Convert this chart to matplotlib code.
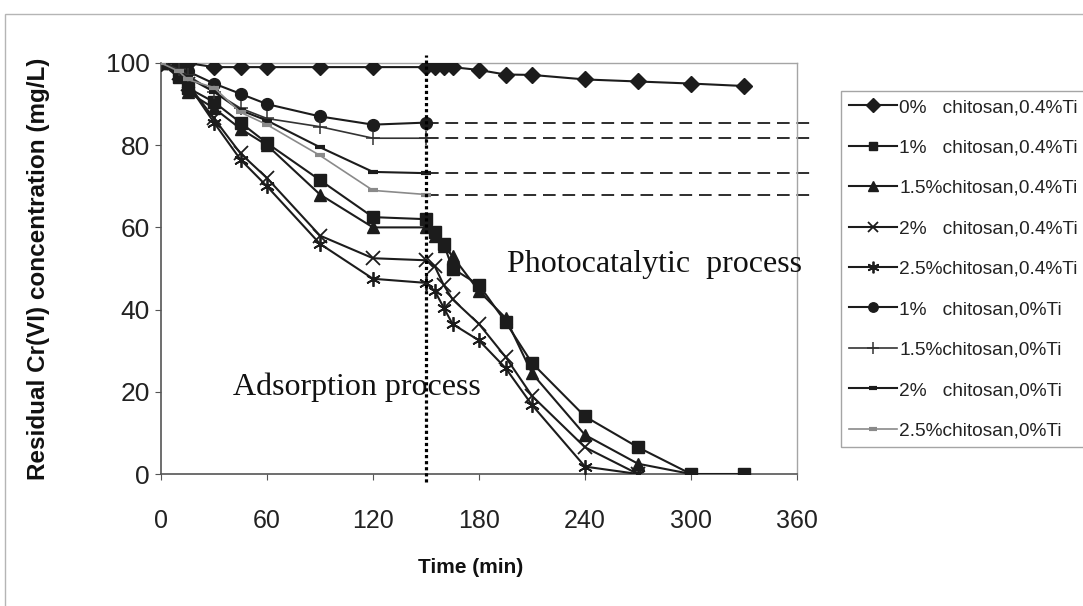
import numpy as np
import matplotlib
matplotlib.use('Agg')
import matplotlib.pyplot as plt
from matplotlib.patches import Rectangle

# ── data ─────────────────────────────────────────────────────────────────────
t_ti   = [0, 10, 15, 30, 45, 60, 90, 120, 150, 155, 160, 165, 180, 195, 210, 240, 270, 300, 330]
t_noti = [0, 10, 15, 30, 45, 60, 90, 120, 150]

c0_ti   = [100, 100, 100, 99, 99, 99, 99, 99, 99, 99, 99, 99, 98.3, 97.2, 97.1, 96, 95.5, 95, 94.4]
c1_ti   = [100, 96.5, 94, 90.5, 85.5, 80.5, 71.5, 62.5, 62, 59, 56, 50, 46, 37, 27, 14, 6.5, 0, 0]
c15_ti  = [100, 97, 93, 89, 84, 80, 68, 60, 60, 58, 55.5, 53, 44.5, 38, 24.5, 9.5, 2.5, 0]
c2_ti   = [100, 97.5, 95, 86.5, 78, 72, 58, 52.5, 52, 50.5, 46, 42.5, 36.5, 28.5, 19, 6.5, 0]
c25_ti  = [100, 97, 95, 85.5, 76.5, 70, 56, 47.5, 46.5, 44.5, 40.5, 36.5, 32.5, 25.8, 16.8, 1.8, 0]

c1_noti  = [100, 99, 98, 95, 92.5, 90, 87, 85, 85.5]
c15_noti = [100, 98.5, 97, 93, 89, 86.5, 84.5, 81.7, 81.7]
c2_noti  = [100, 98, 96.5, 93, 88.5, 86, 79.5, 73.5, 73.2]
c25_noti = [100, 98, 96, 94, 88, 85, 77.5, 69, 68]

labels = ['0%   chitosan,0.4%Ti', '1%   chitosan,0.4%Ti', '1.5%chitosan,0.4%Ti',
          '2%   chitosan,0.4%Ti', '2.5%chitosan,0.4%Ti', '1%   chitosan,0%Ti',
          '1.5%chitosan,0%Ti', '2%   chitosan,0%Ti', '2.5%chitosan,0%Ti']

DARK = '#1c1c1c'
GREY = '#8a8a8a'

plt.rcParams.update({
    'font.family': ['Liberation Sans', 'DejaVu Sans'],
})

fig = plt.figure(figsize=(10.83, 6.06), dpi=100)
ax = fig.add_axes([161/1083, 1 - 474/606, 636/1083, 411/606])

# outer chart border (cut by the page edge on right and bottom)
fig.add_artist(Rectangle((5/1083, -0.1), 1.2, 1.1 - 14/606, transform=fig.transFigure,
                         fill=False, edgecolor='#b5b5b5', lw=1.0))

series = [
    (t_ti,   c0_ti,   dict(marker='D', ms=8.5, color=DARK)),
    (t_ti,   c1_ti,   dict(marker='s', ms=8,  color=DARK)),
    (t_ti,   c15_ti,  dict(marker='^', ms=8.5, color=DARK)),
    (t_ti,   c2_ti,   dict(marker='x', ms=9.5, mew=1.3, color=DARK)),
    (t_ti,   c25_ti,  dict(marker=(6, 2, 0), ms=10.5, mew=1.3, color=DARK)),
    (t_noti, c1_noti, dict(marker='o', ms=8.5, color=DARK)),
    (t_noti, c15_noti, dict(marker='+', ms=10, mew=1.1, color='#333333', lw=1.2)),
    (t_noti, c2_noti, dict(marker='_', ms=7,  mew=3, color=DARK)),
    (t_noti, c25_noti, dict(marker='_', ms=7,  mew=3, color=GREY, lw=1.2)),
]

handles = []
for (t, c, kw), lab in zip(series, labels):
    kw = dict(kw)
    lw = kw.pop('lw', 1.5)
    h, = ax.plot(t[:len(c)], c, lw=lw, label=lab, zorder=3, **kw)
    handles.append(h)

# plateau continuation of the 0% Ti runs
for c in [c1_noti, c15_noti, c2_noti, c25_noti]:
    ax.plot([150, 368], [c[-1], c[-1]], color=DARK, lw=1.3, ls=(0, (7, 3.8)),
            clip_on=False, zorder=2)

# start of irradiation
ax.plot([150, 150], [-2, 102], color='black', lw=2.3, ls=(0, (1, 0.9)),
        clip_on=False, zorder=4)

ax.text(196, 51, 'Photocatalytic  process', family='Liberation Serif',
        fontsize=23, va='center', ha='left', color='#111111')
ax.text(40.5, 21, 'Adsorption process', family='Liberation Serif',
        fontsize=23, va='center', ha='left', color='#111111')

ax.set_xlim(0, 360)
ax.set_ylim(0, 100)
ax.set_xticks(range(0, 361, 60))
ax.set_yticks(range(0, 101, 20))
for s in ['left', 'bottom']:
    ax.spines[s].set_color('#555555')
    ax.spines[s].set_linewidth(1.2)
for s in ['top', 'right']:
    ax.spines[s].set_color('#a5a5a5')
    ax.spines[s].set_linewidth(1.0)
ax.tick_params(axis='x', direction='out', length=4, color='#555555',
               labelsize=18, pad=21, labelcolor='#222222')
ax.tick_params(axis='y', direction='out', length=4, color='#555555',
               labelsize=19, pad=4, labelcolor='#222222')

ax.set_xlabel('Time (min)', fontsize=15, fontweight='bold', color='#111111')
ax.xaxis.set_label_coords(0.487, -0.205)
ax.set_ylabel('Residual Cr(VI) concentration (mg/L)', fontsize=17.5,
              fontweight='bold', color='#111111')
ax.yaxis.set_label_coords(-0.175, 0.50)

leg = ax.legend(handles=handles, loc='upper left',
                bbox_to_anchor=(841/1083, 1 - 91/606), bbox_transform=fig.transFigure,
                fontsize=13.8, frameon=True, fancybox=False, framealpha=1,
                edgecolor='#a5a5a5', borderpad=0.4, labelspacing=1.2,
                handlelength=2.5, handletextpad=0.15, borderaxespad=0,
                markerscale=0.8)
leg.get_frame().set_linewidth(1.0)
for txt in leg.get_texts():
    txt.set_color('#222222')

fig.savefig('out.png', dpi=100, facecolor='white')
